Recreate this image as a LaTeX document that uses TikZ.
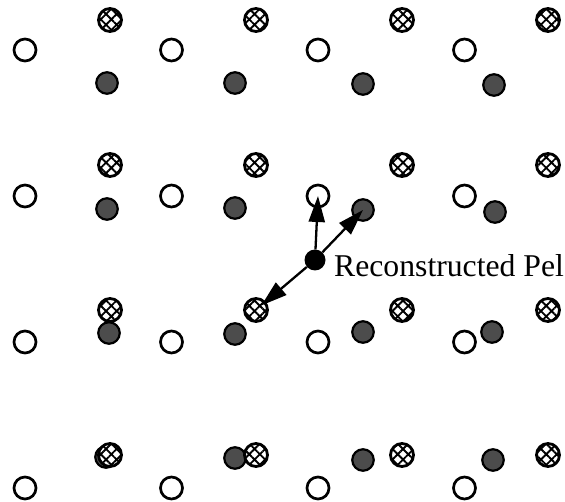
\documentclass[tikz,border=0pt]{standalone}
\usepackage{fontspec}
\setmainfont{Liberation Serif}
\usetikzlibrary{arrows.meta,patterns.meta,positioning}

\begin{document}
\begin{tikzpicture}[x=1pt,y=-1pt,
		>={Triangle[length=26pt,width=16pt]},
		open/.style = {draw, circle, line width=2.7pt, minimum size=22pt, inner sep=0pt, fill=white},
		hatch/.style = {draw, circle, line width=2.8pt, minimum size=23pt, inner sep=0pt, fill=white,
			postaction={pattern={Hatch[angle=45,distance=7.5pt,line width=1.9pt]}}},
		dark/.style = {draw, circle, line width=2.2pt, minimum size=21.5pt, inner sep=0pt, fill=black!70},
		pel/.style = {circle, fill=black, minimum size=21pt, inner sep=0pt},
		vec/.style = {->, line width=2.3pt}]
		\useasboundingbox (0,0) rectangle (565,502);
		% open lattice
		\foreach \i in {0,...,3}
			\foreach \j in {0,...,3}
				\node[open] (o\i\j) at ({25+146.5*\i},{50+146*\j}) {};
		% dark pels, row by row
		\foreach \x/\y [count=\n from 0] in {107/83, 235/83, 363/84, 494/85,
				107/209, 235/208, 363/210, 495/212,
				109/333, 235/334, 363/332, 492/332,
				106/457, 235/458, 363/460, 493/460}
			\node[dark] (d\n) at (\x,\y) {};
		% hatched lattice on top
		\foreach \i in {0,...,3}
			\foreach \j in {0,...,3}
				\node[hatch] (h\i\j) at ({110+146*\i},{20+145*\j}) {};
		\node[pel] (pel) at (315,260) {};
		\node[anchor=base west, inner sep=0pt, font=\fontsize{31.7}{36}\selectfont] (lbl) at (334,277) {Reconstructed Pel};
		\draw[vec] (pel) -- (o21.center);
		\draw[vec] (pel) -- (d6.center);
		\draw[vec, shorten >=7pt] (pel) -- (h12.center);
	\end{tikzpicture}
\end{document}
